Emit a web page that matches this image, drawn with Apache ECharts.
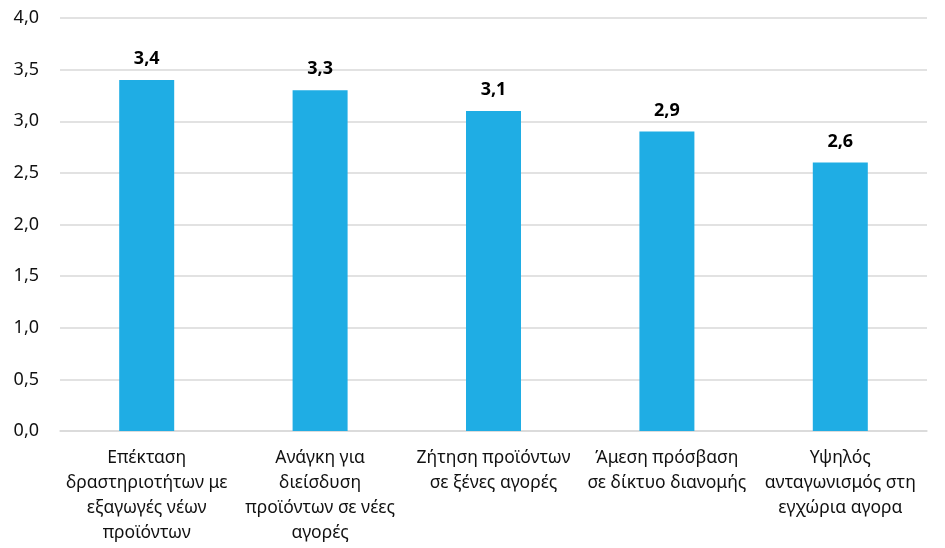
<!DOCTYPE html>
<html>
<head>
<meta charset="utf-8">
<script src="https://cdn.jsdelivr.net/npm/echarts@6/dist/echarts.min.js"></script>
<style>
html, body { margin: 0; padding: 0; background: #fff; }
#chart { width: 945px; height: 548px; }
</style>
</head>
<body>
<div id="chart"></div>
<script>
var categories = [
    'Επέκταση\nδραστηριοτήτων με\nεξαγωγές νέων\nπροϊόντων',
    'Ανάγκη για\nδιείσδυση\nπροϊόντων σε νέες\nαγορές',
    'Ζήτηση προϊόντων\nσε ξένες αγορές',
    'Άμεση πρόσβαση\nσε δίκτυο διανομής',
    'Υψηλός\nανταγωνισμός στη\nεγχώρια αγορα'
];
var values = [3.4, 3.3, 3.1, 2.9, 2.6];

var fmt = function (v) { return Number(v).toFixed(1).replace('.', ','); };

var myChart = echarts.init(document.getElementById('chart'));
var option = {
    animation: false,
    grid: {
        left: 60,
        right: 18,
        top: 18,
        bottom: 117
    },
    xAxis: {
        type: 'category',
        data: categories,
        axisTick: { show: false },
        axisLine: { lineStyle: { color: '#d9d9d9', width: 1.5 } },
        axisLabel: {
            interval: 0,
            margin: 15,
            color: '#111',
            fontFamily: 'Noto Sans',
            fontSize: 17.5,
            lineHeight: 25
        }
    },
    yAxis: {
        type: 'value',
        min: 0,
        max: 4,
        interval: 0.5,
        axisLine: { show: false },
        axisTick: { show: false },
        splitLine: { lineStyle: { color: '#d9d9d9', width: 1.5 } },
        axisLabel: {
            margin: 21,
            color: '#111',
            fontFamily: 'Noto Sans',
            fontSize: 18,
            formatter: fmt
        }
    },
    series: [
        {
            type: 'bar',
            data: values,
            barWidth: 55,
            itemStyle: { color: '#1FADE4' },
            label: {
                show: true,
                position: 'top',
                distance: 12,
                color: '#000',
                fontFamily: 'Noto Sans',
                fontWeight: 'bold',
                fontSize: 18,
                formatter: function (p) { return fmt(p.value); }
            }
        }
    ]
};
myChart.setOption(option);
</script>
</body>
</html>
